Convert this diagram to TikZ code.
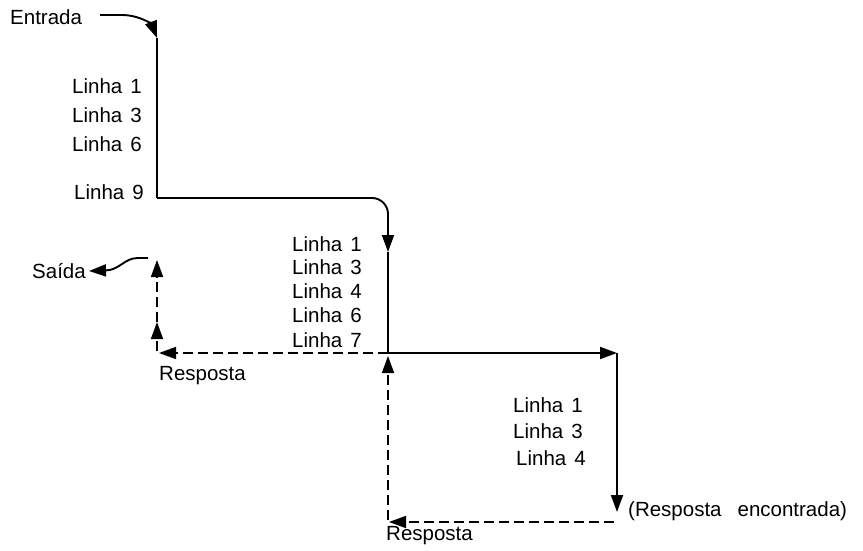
\documentclass[tikz,border=0pt]{standalone}
\usepackage{fontspec}
\setmainfont{Liberation Sans}
\usetikzlibrary{arrows.meta}
\tikzset{
  lbl/.style={font=\fontsize{20.5}{24}\selectfont, inner sep=0pt, anchor=base west},
  flow/.style={line width=1.9pt},
  back/.style={line width=1.7pt, dash pattern=on 10pt off 5pt},
  tip/.style={-{Triangle[length=17pt,width=12pt]}}
}
\newcommand{\lsp}{\hspace{8pt}}
\begin{document}
\begin{tikzpicture}[x=1pt,y=-1pt]
\useasboundingbox (0,0) rectangle (863,551);
% labels
\node[lbl] (ent) at (10,25) {Entrada};
\node[lbl] (l1a) at (72,94) {Linha\lsp 1};
\node[lbl] (l3a) at (72,122) {Linha\lsp 3};
\node[lbl] (l6a) at (72,151) {Linha\lsp 6};
\node[lbl] (l9a) at (74,199) {Linha\lsp 9};
\node[lbl] (l1b) at (292,251) {Linha\lsp 1};
\node[lbl] (l3b) at (292,274) {Linha\lsp 3};
\node[lbl] (l4b) at (292,298) {Linha\lsp 4};
\node[lbl] (l6b) at (292,322) {Linha\lsp 6};
\node[lbl] (l7b) at (292,347) {Linha\lsp 7};
\node[lbl] (sai) at (32,278) {Saída};
\node[lbl] (resA) at (159,380) {Resposta};
\node[lbl] (l1c) at (513,412) {Linha\lsp 1};
\node[lbl] (l3c) at (513,438) {Linha\lsp 3};
\node[lbl] (l4c) at (516,465) {Linha\lsp 4};
\node[lbl] (enc) at (628,516) {(Resposta\hspace{16pt}encontrada)};
\node[lbl] (resB) at (386,540) {Resposta};
% coordinates
\coordinate (A0) at (100,15);
\coordinate (A) at (157,38);
\coordinate (B) at (157,198);
\coordinate (Bc) at (388,198);
\coordinate (C) at (388,252);
\coordinate (D) at (388,353);
\coordinate (E) at (617,353);
\coordinate (F) at (617,512);
\coordinate (F2) at (614,522);
\coordinate (G) at (389,522);
\coordinate (G2) at (388,520);
\coordinate (Du) at (388,356);
\coordinate (H) at (159,353);
\coordinate (H2) at (157,351);
\coordinate (Hm) at (157,322);
\coordinate (I) at (157,260);
\coordinate (S0) at (148,258);
\coordinate (S1) at (89,271);
% forward path
\draw[flow,tip] (A0) -- (122,15) .. controls (140,15) and (152,25) .. (A);
\draw[flow] (A) -- (B);
\draw[flow,tip,rounded corners=16pt] (B) -- (Bc) -- (C);
\draw[flow] (C) -- (D);
\draw[flow,tip] (D) -- (E);
\draw[flow,tip] (E) -- (F);
% return path
\draw[back,tip] (F2) -- (G);
\draw[back,tip] (G2) -- (Du);
\draw[back,tip] (D) -- (H);
\draw[back,tip] (H2) -- (Hm);
\draw[back,tip] (Hm) -- (I);
\draw[flow,tip] (S0) -- (138,258) .. controls (124,258) and (120,270) .. (S1);
\end{tikzpicture}
\end{document}
